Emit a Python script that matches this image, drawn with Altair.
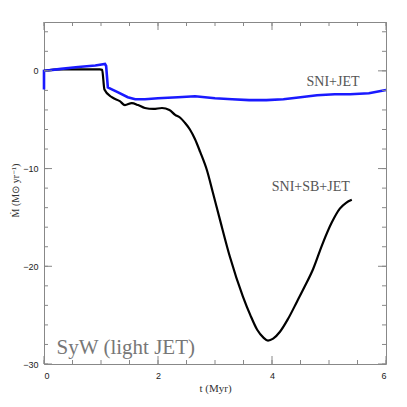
import altair as alt
import pandas as pd

# SNI+SB+JET (black)
t_black = [0, 0.3, 0.98, 1.02, 1.06, 1.19, 1.33, 1.42, 1.54, 1.65, 1.77, 1.92, 2.07, 2.2,
           2.3, 2.39, 2.47, 2.56, 2.65, 2.74, 2.86, 2.96, 3.09, 3.26, 3.49, 3.62, 3.74,
           3.85, 3.93, 4.02, 4.14, 4.28, 4.44, 4.58, 4.72, 4.88, 5.05, 5.19, 5.3, 5.4]
m_black = [0, 0.15, 0.15, 0.1, -1.9, -2.7, -3.1, -3.5, -3.3, -3.5, -3.8, -3.9, -3.8, -4.0,
           -4.5, -4.8, -5.3, -6.0, -7.0, -8.3, -10.2, -12.4, -15.3, -19.0, -23.1, -25.0, -26.5,
           -27.3, -27.6, -27.4, -26.7, -25.4, -23.6, -22.0, -20.3, -17.8, -15.5, -14.1, -13.5, -13.2]

# SNI+JET (blue)
t_blue = [0, 0, 0.3, 0.6, 0.9, 1.07, 1.09, 1.12, 1.19, 1.3, 1.47, 1.6, 1.77, 2.0, 2.35,
          2.65, 3.0, 3.3, 3.6, 3.9, 4.2, 4.5, 4.79, 5.1, 5.37, 5.7, 6.0]
m_blue = [-1.9, 0, 0.2, 0.4, 0.55, 0.7, 0.5, -1.7, -1.9, -2.2, -2.7, -2.9, -2.9, -2.8, -2.7,
          -2.6, -2.8, -2.9, -3.0, -3.0, -2.9, -2.7, -2.5, -2.4, -2.4, -2.3, -1.95]

x_minor = [i * 0.5 for i in range(13)]
x_major = [0, 2, 4, 6]
y_minor = [-30 + 2 * i for i in range(18)]
y_major = [-30, -20, -10, 0]

W, H = 342, 342
XD, YD = [0, 6], [-30, 5]
SERIF = "Liberation Serif"
SANS = "Liberation Sans"

black = pd.DataFrame({"t": t_black, "m": m_black, "i": range(len(t_black))})
blue = pd.DataFrame({"t": t_blue, "m": m_blue, "i": range(len(t_blue))})

xs = alt.Scale(domain=XD, nice=False, zero=False)
ys = alt.Scale(domain=YD, nice=False, zero=False)

xaxis = alt.Axis(values=x_major, format="d", grid=False, domain=False, ticks=False,
                 labelFont=SANS, labelFontSize=9, labelColor="#222", labelPadding=7,
                 title="t (Myr)", titleFont=SERIF, titleFontSize=11, titleFontWeight="normal",
                 titleColor="#333", titlePadding=2)
yaxis = alt.Axis(values=y_major, format="d", grid=False, domain=False, ticks=False,
                 labelFont=SANS, labelFontSize=9, labelColor="#222", labelPadding=6,
                 title="Ṁ (M⊙ yr⁻¹)", titleFont=SERIF, titleFontSize=10,
                 titleFontWeight="normal", titleColor="#333",
                 titleX=-29, titleY=168, titleAngle=270, titleBaseline="middle", titleAlign="center")

base_black = alt.Chart(black).mark_line(color="black", strokeWidth=2.2, interpolate="monotone").encode(
    x=alt.X("t:Q", scale=xs, axis=xaxis),
    y=alt.Y("m:Q", scale=ys, axis=yaxis),
    order="i:Q",
)
line_blue = alt.Chart(blue).mark_line(color="#1a1aff", strokeWidth=2.6).encode(
    x=alt.X("t:Q", scale=xs),
    y=alt.Y("m:Q", scale=ys),
    order="i:Q",
)

def xticks(vals, length):
    df = pd.DataFrame({"v": vals})
    bot = alt.Chart(df).mark_rule(color="#888", strokeWidth=1).encode(
        x=alt.X("v:Q", scale=xs), y=alt.value(H), y2=alt.value(H - length))
    top = alt.Chart(df).mark_rule(color="#888", strokeWidth=1).encode(
        x=alt.X("v:Q", scale=xs), y=alt.value(0), y2=alt.value(length))
    return bot + top

def yticks(vals, length):
    df = pd.DataFrame({"v": vals})
    left = alt.Chart(df).mark_rule(color="#888", strokeWidth=1).encode(
        y=alt.Y("v:Q", scale=ys), x=alt.value(0), x2=alt.value(length))
    right = alt.Chart(df).mark_rule(color="#888", strokeWidth=1).encode(
        y=alt.Y("v:Q", scale=ys), x=alt.value(W), x2=alt.value(W - length))
    return left + right

ticks = xticks(x_minor, 4) + xticks(x_major, 8) + yticks(y_minor, 4) + yticks(y_major, 8)

lab1 = alt.Chart(pd.DataFrame({"a": [0]})).mark_text(
    text="SNI+JET", font=SERIF, fontSize=14, color="#555", align="center", baseline="middle"
).encode(x=alt.datum(5.07, scale=xs), y=alt.datum(-1.15, scale=ys))
lab2 = alt.Chart(pd.DataFrame({"a": [0]})).mark_text(
    text="SNI+SB+JET", font=SERIF, fontSize=14, color="#555", align="center", baseline="middle"
).encode(x=alt.datum(4.68, scale=xs), y=alt.datum(-11.9, scale=ys))
lab3 = alt.Chart(pd.DataFrame({"a": [0]})).mark_text(
    text="SyW (light JET)", font=SERIF, fontSize=21, color="#777", align="left", baseline="alphabetic"
).encode(x=alt.datum(0.22, scale=xs), y=alt.datum(-29.0, scale=ys))

chart = alt.layer(base_black, line_blue, ticks, lab1, lab2, lab3).properties(
    width=W, height=H,
    padding={"left": 36, "top": 14, "right": 5, "bottom": 40},
    autosize="none",
).configure_view(stroke="#888", strokeWidth=1)

chart.save("out.html", embed_options={"renderer": "svg", "actions": False})
